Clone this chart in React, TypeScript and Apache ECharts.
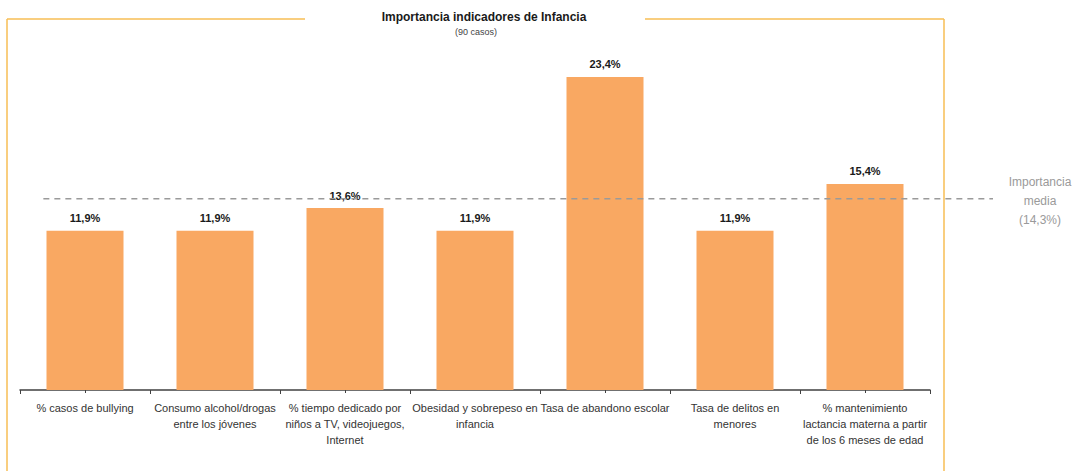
import React, { useEffect, useRef } from "react";
import * as echarts from "echarts";

const categories: string[] = [
  "% casos de bullying",
  "Consumo alcohol/drogas\nentre los jóvenes",
  "% tiempo dedicado por\nniños a TV, videojuegos,\nInternet",
  "Obesidad y sobrepeso en\ninfancia",
  "Tasa de abandono escolar",
  "Tasa de delitos en\nmenores",
  "% mantenimiento\nlactancia materna a partir\nde los 6 meses de edad",
];
const values: number[] = [11.9, 11.9, 13.6, 11.9, 23.4, 11.9, 15.4];
const meanValue = 14.3;
const titleText = "Importancia indicadores de Infancia";
const subtitleText = "(90 casos)";
const meanLabel = "Importancia\nmedia";

const FONT = "'Liberation Sans Narrow', 'Liberation Sans', Arial, sans-serif";
const fmt = (v: number) => v.toFixed(1).replace(".", ",") + "%";

export default function App() {
  const ref = useRef<HTMLDivElement>(null);
  useEffect(() => {
    document.body.style.margin = "0";
    const chart = echarts.init(ref.current!, null, { renderer: "svg" });
    const frameColor = "#F7BE55";
    const top = 55.5;
    const bottom = 81;
    chart.setOption({
      animation: false,
      backgroundColor: "#ffffff",
      textStyle: { fontFamily: FONT },
      grid: [
        { left: 20, right: 153, top, bottom },
        { left: 20, right: 90, top, bottom },
      ],
      xAxis: [
        {
          type: "category",
          data: categories,
          gridIndex: 0,
          axisLine: { lineStyle: { color: "#404040", width: 1.5 } },
          axisTick: { show: true, length: 4, lineStyle: { color: "#404040" } },
          axisLabel: {
            interval: 0,
            margin: 10,
            color: "#333",
            fontSize: 11,
            lineHeight: 16,
            fontFamily: FONT,
          },
        },
        {
          type: "category",
          data: categories,
          gridIndex: 0,
          position: "bottom",
          axisLine: { show: false },
          axisTick: { show: true, alignWithLabel: true, length: 3, lineStyle: { color: "#404040" } },
          axisLabel: { show: false },
        },
        {
          type: "value",
          gridIndex: 1,
          min: 0,
          max: 1,
          show: false,
        },
      ],
      yAxis: [
        { type: "value", gridIndex: 0, min: 0, max: 25, show: false },
        { type: "value", gridIndex: 1, min: 0, max: 25, show: false },
      ],
      series: [
        {
          type: "bar",
          xAxisIndex: 0,
          yAxisIndex: 0,
          data: values,
          barWidth: 77,
          itemStyle: { color: "#F9A862" },
          label: {
            show: true,
            position: "top",
            distance: 7,
            formatter: (p: any) => fmt(p.value),
            color: "#1a1a1a",
            fontWeight: "bold",
            fontSize: 11,
            fontFamily: FONT,
          },
        },
        {
          type: "line",
          xAxisIndex: 2,
          yAxisIndex: 1,
          data: [
            [0.024, meanValue],
            [1, meanValue],
          ],
          symbol: "none",
          lineStyle: { color: "#9a9a9a", width: 1.5, type: [6, 5] },
          silent: true,
        },
      ],
      graphic: [
        { type: "line", shape: { x1: 7, y1: 19, x2: 305, y2: 19 }, style: { stroke: frameColor, lineWidth: 1.5 } },
        { type: "line", shape: { x1: 645, y1: 19, x2: 944, y2: 19 }, style: { stroke: frameColor, lineWidth: 1.5 } },
        { type: "line", shape: { x1: 7, y1: 19, x2: 7, y2: 471 }, style: { stroke: frameColor, lineWidth: 1.5 } },
        { type: "line", shape: { x1: 944, y1: 19, x2: 944, y2: 471 }, style: { stroke: frameColor, lineWidth: 1.5 } },
        {
          type: "text",
          x: 484,
          y: 17,
          style: {
            text: titleText,
            align: "center",
            verticalAlign: "middle",
            font: `bold 12px ${FONT}`,
            fill: "#1a1a1a",
          },
        },
        {
          type: "text",
          x: 476,
          y: 32,
          style: {
            text: subtitleText,
            align: "center",
            verticalAlign: "middle",
            font: `9px ${FONT}`,
            fill: "#444",
          },
        },
        {
          type: "text",
          x: 1040,
          y: 172,
          style: {
            text: meanLabel + "\n(" + fmt(meanValue) + ")",
            align: "center",
            verticalAlign: "top",
            font: `12px ${FONT}`,
            lineHeight: 19,
            fill: "#9a9a9a",
          },
        },
      ],
    });
    return () => chart.dispose();
  }, []);
  return <div ref={ref} style={{ width: 1083, height: 471 }} />;
}
